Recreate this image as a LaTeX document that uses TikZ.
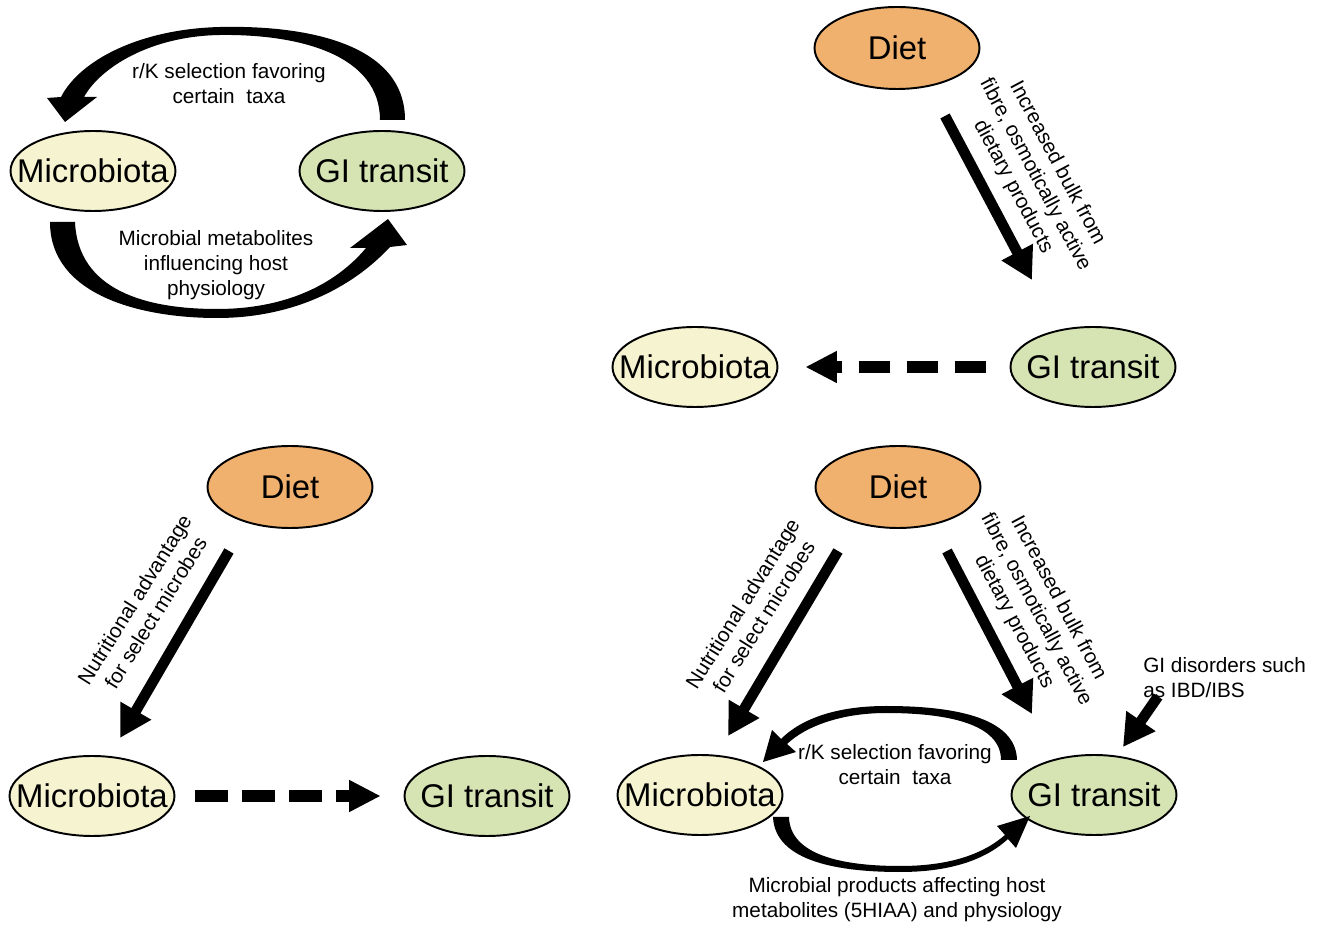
\documentclass[tikz,border=0pt]{standalone}
\usepackage{fontspec}
\setmainfont{Liberation Sans}
\usetikzlibrary{arrows.meta, shapes.geometric, positioning, calc}
\definecolor{MicFill}{RGB}{246,243,208}
\definecolor{GitFill}{RGB}{214,228,180}
\definecolor{DietFill}{RGB}{240,176,110}

\begin{document}
\begin{tikzpicture}[x=0.02cm, y=-0.02cm,
    box/.style={ellipse, draw=black, line width=1.1pt,
      inner xsep=-12pt, inner ysep=0pt,
      minimum width=3.3cm, minimum height=1.6cm,
      font=\fontsize{18.7}{22}\selectfont},
    mic/.style={box, fill=MicFill},
    git/.style={box, fill=GitFill},
    diet/.style={box, fill=DietFill, minimum height=1.64cm},
    note/.style={align=center, inner sep=0pt,
      font=\fontsize{11.8}{14.2}\selectfont},
    fat/.style={line width=6pt, -{Triangle[length=18pt,width=19pt]}},
    dashline/.style={line width=6.4pt, -{Triangle[length=18pt,width=17pt]}}]

  \useasboundingbox (0,0) rectangle (1320,925);

  % top left: the loop
  \node[mic] (tlmic) at (93,171) {Microbiota};
  \node[git] (tlgit) at (382,171) {GI transit};
  \fill (405,120) .. controls (405,45) and (310,25) .. (220,27)
        .. controls (140,29) and (80,60) .. (61,97)
        -- (47,98) -- (65,122) -- (97,97) -- (84,97)
        .. controls (100,68) and (150,36) .. (220,35)
        .. controls (300,34) and (380,55) .. (380,120) -- cycle;
  \fill (50,222) .. controls (50,295) and (140,318) .. (217,318)
        .. controls (290,318) and (350,290) .. (390,247)
        -- (407,245) -- (388,219) -- (350,248) -- (366,248)
        .. controls (335,285) and (285,309) .. (217,309)
        .. controls (145,309) and (78,290) .. (75,222) -- cycle;
  \node[note] (tltop) at (229,84) {r/K selection favoring\\certain\ \ taxa};
  \node[note] (tlbot) at (216,265) {Microbial metabolites\\influencing host\\physiology};

  % top right
  \node[diet] (trdiet) at (897,48) {Diet};
  \node[mic] (trmic) at (695,367) {Microbiota};
  \node[git] (trgit) at (1093,367) {GI transit};
  \draw[fat] ([shift={(48,26)}]trdiet.south) -- ([shift={(-61,-46)}]trgit.north);
  \node[note, rotate=-62] (trlbl) at (1035,175)
    {Increased bulk from\\fibre, osmotically active\\dietary products};
  \draw[dashline, dash pattern=on 17.6pt off 9.6pt,
    shorten <=13.6pt, shorten >=15.3pt] (trgit) -- (trmic);

  % bottom left
  \node[diet] (bldiet) at (290,487) {Diet};
  \node[mic] (blmic) at (92,796) {Microbiota};
  \node[git] (blgit) at (487,796) {GI transit};
  \draw[fat] ([shift={(-61,22)}]bldiet.south) -- ([shift={(28,-17)}]blmic.north);
  \node[note, rotate=58] (bllbl) at (145,606)
    {Nutritional advantage\\for select microbes};
  \draw[dashline, dash pattern=on 18.7pt off 8pt,
    shorten <=11.3pt, shorten >=13pt] (blmic) -- (blgit);

  % bottom right
  \node[diet] (brdiet) at (898,487) {Diet};
  \node[mic] (brmic) at (700,795) {Microbiota};
  \node[git] (brgit) at (1094,795) {GI transit};
  \draw[fat] ([shift={(-60,22)}]brdiet.south) -- ([shift={(28,-18)}]brmic.north);
  \draw[fat] ([shift={(49,22)}]brdiet.south) -- ([shift={(-62,-40)}]brgit.north);
  \node[note, rotate=58] (brlbla) at (753,610)
    {Nutritional advantage\\for select microbes};
  \node[note, rotate=-62] (brlblb) at (1036,610)
    {Increased bulk from\\fibre, osmotically active\\dietary products};
  \node[note, align=left, anchor=west] (gidis) at (1143,678)
    {GI disorders such\\as IBD/IBS};
  \draw[fat] ([shift={(15,-2)}]gidis.south west) -- ([shift={(29,-7)}]brgit.north);
  \fill (1017,760) .. controls (1016,716) and (950,706) .. (886,706)
        .. controls (838,706) and (802,718) .. (781,739)
        -- (772,730) -- (763,762) -- (796,752) -- (787,744)
        .. controls (806,726) and (842,713) .. (886,713)
        .. controls (948,713) and (1001,724) .. (1001,760) -- cycle;
  \fill (773,817) .. controls (775,862) and (840,872) .. (900,872)
        .. controls (950,872) and (985,860) .. (1008,839)
        -- (1016,848) -- (1030,816) -- (997,826) -- (1005,835)
        .. controls (982,855) and (948,866) .. (900,866)
        .. controls (842,866) and (790,855) .. (789,817) -- cycle;
  \node[note] (brtop) at (895,765) {r/K selection favoring\\certain\ \ taxa};
  \node[note] (brbot) at (897,900)
    {Microbial products affecting host\\metabolites (5HIAA) and physiology};
\end{tikzpicture}
\end{document}
